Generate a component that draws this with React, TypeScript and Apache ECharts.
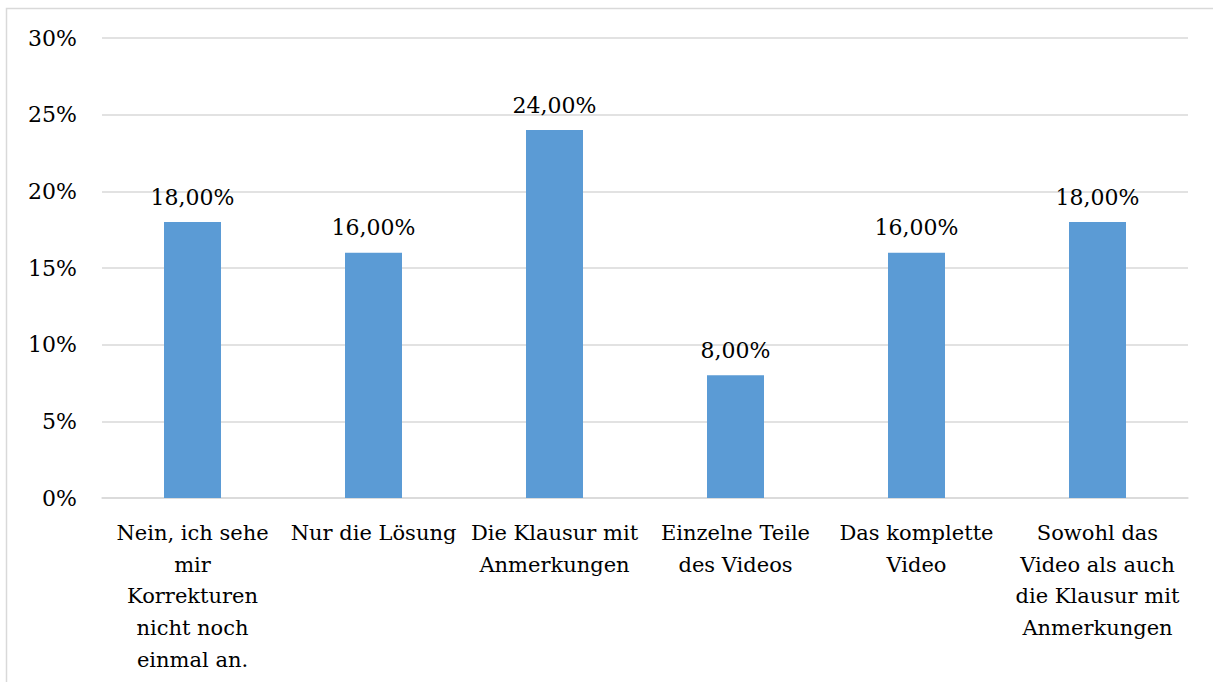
import React, { useEffect, useRef } from "react";
import * as echarts from "echarts";

const categories = [
  "Nein, ich sehe\nmir\nKorrekturen\nnicht noch\neinmal an.",
  "Nur die Lösung",
  "Die Klausur mit\nAnmerkungen",
  "Einzelne Teile\ndes Videos",
  "Das komplette\nVideo",
  "Sowohl das\nVideo als auch\ndie Klausur mit\nAnmerkungen",
];
const values = [18, 16, 24, 8, 16, 18];

const FONT = "DejaVu Serif";

export default function App() {
  const ref = useRef<HTMLDivElement>(null);
  useEffect(() => {
    document.body.style.margin = "0";
    const chart = echarts.init(ref.current!, null, { renderer: "svg" });
    chart.setOption({
      animation: false,
      backgroundColor: "#ffffff",
      graphic: [
        {
          type: "rect",
          shape: { x: 6.5, y: 8.5, width: 1400, height: 900 },
          style: { fill: "none", stroke: "#d9d9d9", lineWidth: 1.5 },
          silent: true,
        },
      ],
      grid: { left: 102, right: 25, top: 38, bottom: 184 },
      xAxis: {
        type: "category",
        data: categories,
        axisTick: { show: false },
        axisLine: { lineStyle: { color: "#d9d9d9", width: 1.5 } },
        axisLabel: {
          interval: 0,
          color: "#000",
          fontFamily: FONT,
          fontSize: 21,
          lineHeight: 31.7,
          margin: 19,
        },
      },
      yAxis: {
        type: "value",
        min: 0,
        max: 30,
        interval: 5,
        axisLine: { show: false },
        axisTick: { show: false },
        splitLine: { lineStyle: { color: "#d9d9d9", width: 1.5 } },
        axisLabel: {
          formatter: (v: number) => v + "%",
          color: "#000",
          fontFamily: FONT,
          fontSize: 22,
          margin: 25,
        },
      },
      series: [
        {
          type: "bar",
          data: values,
          barWidth: 57,
          itemStyle: { color: "#5b9bd5" },
          label: {
            show: true,
            position: "top",
            distance: 14,
            color: "#000",
            fontFamily: FONT,
            fontSize: 22,
            formatter: (p: any) => p.value.toFixed(2).replace(".", ",") + "%",
          },
        },
      ],
    });
    return () => chart.dispose();
  }, []);
  return (
    <div
      ref={ref}
      style={{ width: 1213, height: 682, position: "absolute", left: 0, top: 0 }}
    />
  );
}
